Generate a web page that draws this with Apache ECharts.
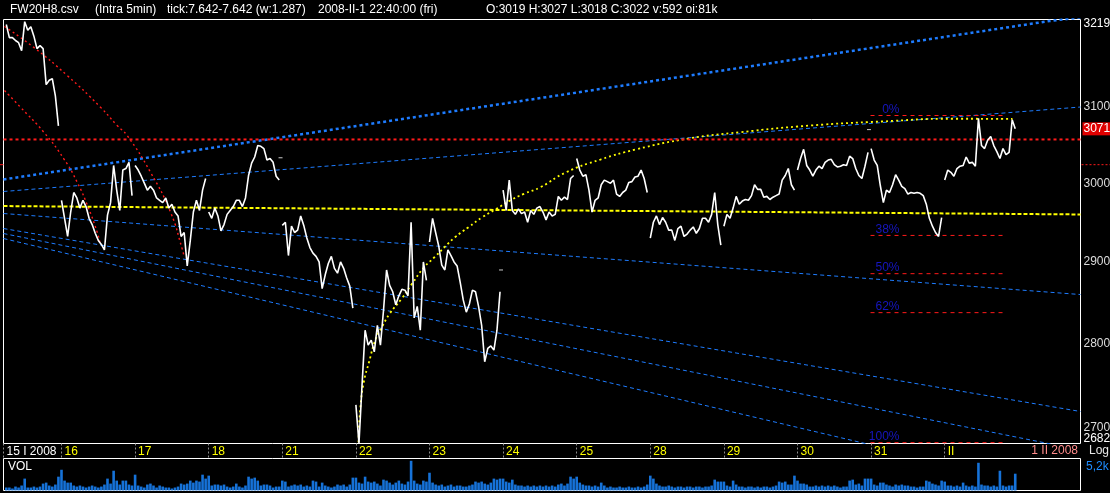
<!DOCTYPE html>
<html>
<head>
<meta charset="utf-8">
<title>FW20H8</title>
<script src="https://cdn.jsdelivr.net/npm/echarts@6.0.0/dist/echarts.min.js"></script>
<style>
html,body{margin:0;padding:0;background:#000;overflow:hidden;}
#chart{width:1110px;height:493px;}
</style>
</head>
<body>
<div id="chart"></div>
<script>
// ================= DATA =================
// trading days shown on the time axis (day index 0 = 15 Jan 2008)
const dayLabels = ['15 I 2008','16','17','18','21','22','23','24','25','28','29','30','31','II'];
const samplesPerDay = 24;                 // intraday samples per session
const firstSample = [6,0,0,0,0,0,0,0,0,0,0,0,0,0]; // 15 Jan only partly visible

// intraday prices, one array per session
const price_15 = [3212,3194,3194,3190,3187,3176,3216,3204,3209,3196,3179,3183,3179,3130,3136,3138,3115,3075];
const price_16 = [2978,2955,2932,2963,2988,2981,2968,2978,2970,2955,2947,2936,2927,2922,2915,2959,2975,3023,2991,2965,3017,3019,3027,2984];
const price_17 = [3023,3017,3009,3000,2991,2996,2991,2981,2978,2975,2981,2968,2973,2963,2958,2932,2937,2895,2927,2963,2978,2965,2991,3006];
const price_18 = [2963,2955,2968,2958,2939,2947,2960,2965,2970,2978,2978,2970,2981,3010,3026,3034,3049,3048,3045,3030,3032,3027,3009,3004];
const price_21 = [2946,2950,2908,2945,2937,2940,2958,2946,2930,2918,2911,2907,2900,2867,2884,2898,2907,2892,2886,2900,2892,2880,2870,2843];
const price_22 = [2727,2682,2750,2816,2798,2804,2790,2822,2798,2840,2890,2871,2863,2847,2858,2866,2865,2858,2950,2831,2845,2816,2900,2877];
const price_23 = [2925,2955,2937,2920,2896,2890,2915,2908,2900,2895,2875,2853,2838,2848,2865,2863,2845,2822,2778,2794,2797,2792,2816,2863];
const price_24 = [2991,2965,3004,2965,2960,2967,2961,2963,2950,2965,2960,2968,2970,2963,2953,2963,2958,2960,2983,2978,2982,2979,3006,3010];
const price_25 = [3032,3017,3009,3011,2991,2963,2978,2981,2998,3004,3002,3000,3004,2986,2983,2988,2991,3001,3002,3008,3009,3017,3006,2988];
const price_28 = [2930,2950,2958,2947,2956,2950,2940,2940,2927,2942,2945,2932,2935,2940,2944,2936,2942,2955,2955,2950,2960,2988,2947,2921];
const price_29 = [2945,2960,2955,2968,2983,2973,2977,2979,2978,2984,2998,2992,2992,2982,2983,2979,2982,2984,2986,3004,3010,3019,2998,2991];
const price_30 = [3017,3032,3044,3023,3017,3009,3017,3022,3019,3027,3030,3031,3024,3021,3022,3024,3023,3035,3032,3019,3010,3006,3022,3040];
const price_31 = [3045,3030,3023,2997,2975,2991,2988,2998,3011,3004,2996,2993,2986,2988,2987,2988,2987,2984,2973,2955,2945,2937,2932,2956];
const price_0201 = [3004,3017,3014,3009,3019,3022,3023,3034,3026,3027,3022,3085,3049,3045,3056,3061,3049,3041,3032,3045,3037,3040,3083,3071];

// intraday volume, same sampling
const vol_15 = [520,520,350,690,520,870,2080,520,520,690,520,690,1210,1380,870,690,1040,2420];
const vol_16 = [3630,1730,1380,1380,870,690,870,690,520,690,870,690,520,690,1040,2080,1210,3460,1730,1040,1730,1730,1040,870];
const vol_17 = [2770,870,690,520,1040,1210,870,520,870,690,520,520,350,520,690,1210,1040,1210,1730,1380,1730,1560,2770,2080];
const vol_18 = [2600,870,1040,1040,870,1040,690,520,690,1210,690,520,870,2420,2080,2250,1730,870,1040,1040,870,520,690,690];
const vol_21 = [1730,1560,690,870,1040,870,1040,690,870,690,1730,1560,690,1380,870,690,520,690,1040,870,1040,690,1040,2250];
const vol_22 = [2250,1380,1210,2420,1560,1380,1560,1210,870,1900,1730,1380,1040,1380,1730,1210,1040,1560,5200,1730,1210,1040,1730,1560];
const vol_23 = [3110,1380,1040,870,1040,690,870,1040,690,870,870,690,690,870,1040,1560,1380,1560,1210,1040,1380,2080,1900,2080];
const vol_24 = [2080,1560,1380,1900,1040,870,870,690,870,690,870,690,870,690,870,690,870,690,1040,1210,870,1210,2420,2080];
const vol_25 = [2420,1380,1040,870,870,690,870,690,1380,870,520,690,520,520,690,520,520,690,520,520,690,520,690,1040];
const vol_28 = [2600,2080,1210,870,690,690,870,690,520,690,690,520,690,690,520,690,690,520,690,690,870,1900,1560,1560];
const vol_29 = [1560,870,690,1730,1040,690,690,520,690,690,520,690,520,690,690,520,690,870,1560,1380,1560,1040,1040,2600];
const vol_30 = [1730,1210,1210,1040,690,690,870,690,870,690,870,690,870,690,520,690,690,1730,1900,1040,1210,870,2080,2080];
const vol_31 = [2080,1040,870,1380,1380,1040,870,690,1040,870,1040,870,870,690,690,520,690,690,1730,1560,1210,1040,870,1730];
const vol_0201 = [1560,870,870,690,870,690,1380,870,690,870,690,4850,1040,870,870,690,870,690,3460,870,690,870,870,2940];

// price scale labels (right axis)
const priceTicks = [3219,3100,3000,2900,2800,2700,2682];
const lastClose = 3071;
const cursorPrice = 3024;
const volumeMaxLabel = '5,2k';

// drawing tools: [time (day units), price]
const thickFan = [[0.212,3004.8],[7.508,3112.0],[14.424,3216.9],[14.845,3221.8]];
const fanLine1 = [[0.212,2989.3],[14.845,3100.0]];
const fanLine2 = [[0.212,2961.1],[14.845,2859.6]];
const fanLine3 = [[0.212,2942.0],[14.845,2719.2]];
const fanLine4 = [[0.212,2935.7],[14.845,2674.5]];
const fanLine5 = [[0.212,2929.4],[14.845,2623.5]];
const yellowLevel = [[0.212,2970.6],[14.845,2959.9]];
const redLevel = [[0.212,3057],[14.845,3057]];
const yellowArc = [[5.035,2683.4],[5.060,2722.6],[5.107,2753.7],[5.178,2777.5],[5.270,2805.6],[5.364,2821.7],[5.457,2835.9],[5.620,2854.3],[5.762,2872.8],[5.927,2893.4],[6.068,2905.9],[6.204,2918.5],[6.346,2931.0],[6.530,2943.7],[6.720,2956.5],[6.910,2967.1],[7.095,2977.7],[7.283,2986.3],[7.508,2994.8],[7.848,3013.8],[8.323,3030.7],[8.799,3043.8],[9.519,3058.2],[10.226,3066.6],[11.177,3075.4],[12.137,3080.7],[13.092,3084.4],[13.921,3084.1]];
const redArc1 = [[0.2255,3209.3],[0.6196,3180.9],[1.0774,3142.3],[1.5299,3099.7],[1.757,3075.4],[1.8927,3062.2],[2.2092,3014.2],[2.481,2962.8],[2.640,2916.4],[2.662,2908.1]];
const redArc2 = [[0.2255,3122.1],[0.443,3099.7],[0.7595,3066.6],[1.0312,3031.7],[1.2133,3001.3],[1.3709,2967.1],[1.4851,2937.4],[1.5204,2924.7]];
const fibLevels = [3088.7,2933.3,2885.4,2837.4,2683];
const fibLabels = ['0%','38%','50%','62%','100%'];
const fibSpan = [11.992,13.799];
const fibLabelAt = 12.386;
const tickMarkers = [[3.976,3033],[6.972,2890],[11.971,3070]];

const headerTexts = ['FW20H8.csv','(Intra 5min)','tick:7.642-7.642 (w:1.287)','2008-II-1 22:40:00 (fri)','O:3019 H:3027 L:3018 C:3022 v:592 oi:81k'];
const currentDate = '1 II 2008';

// ================= CHART =================
const X_MIN = 0.212, X_MAX = 14.845;
const FONT = '"Liberation Sans", Arial, sans-serif';
const BLUE = '#1e7cff';

const priceDays = [price_15,price_16,price_17,price_18,price_21,price_22,price_23,price_24,price_25,price_28,price_29,price_30,price_31,price_0201];
const volumeDays = [vol_15,vol_16,vol_17,vol_18,vol_21,vol_22,vol_23,vol_24,vol_25,vol_28,vol_29,vol_30,vol_31,vol_0201];
const t = (k,i) => k + (firstSample[k] + i) / samplesPerDay;

const series = [];
function overlay(data, color, width, dash, extra) {
  series.push(Object.assign({
    type:'line', xAxisIndex:0, yAxisIndex:0, data, symbol:'none', silent:true, clip:true,
    lineStyle:{color, width, type:dash}, z:2
  }, extra || {}));
}
[fanLine1,fanLine2,fanLine3,fanLine4,fanLine5].forEach(l => overlay(l, BLUE, 1, [4,3]));
overlay(thickFan, BLUE, 2.5, [3,3]);
overlay(yellowArc, '#ffff00', 1.8, [2,3], {smooth:true});
overlay(redArc1, '#ff1a1a', 1.4, [2,3], {smooth:true});
overlay(redArc2, '#ff1a1a', 1.4, [2,3], {smooth:true});
overlay(yellowLevel, '#ffff00', 2, [4,2]);
fibLevels.forEach(v => overlay([[fibSpan[0],v],[fibSpan[1],v]], '#ff1a1a', 1, [4,4]));
overlay(redLevel, '#ff1a1a', 2, [3,3]);

// price line, one segment per session
priceDays.forEach((arr,k) => {
  series.push({
    type:'line', xAxisIndex:0, yAxisIndex:0, symbol:'none', silent:true, clip:true,
    data: arr.map((v,i) => [t(k,i), v]),
    lineStyle:{color:'#ffffff', width:1.6}, z:5
  });
});

// small tick markers
series.push({
  type:'scatter', xAxisIndex:0, yAxisIndex:0, data:tickMarkers, symbol:'rect', symbolSize:[4,1],
  itemStyle:{color:'#ffffff'}, silent:true, z:5
});

// fibonacci labels
series.push({
  type:'scatter', xAxisIndex:0, yAxisIndex:0, symbolSize:0, silent:true, z:6,
  data: fibLevels.map((v,i) => ({value:[fibLabelAt, v], name:fibLabels[i]})),
  label:{show:true, position:'left', distance:0, offset:[0,-6], formatter:'{b}', color:'#1c1cf0', fontSize:12, fontFamily:FONT}
});

// price scale labels on the right, drawn through the log axis
const scaleItems = priceTicks.map(v => [X_MAX, v]).concat([[X_MAX, lastClose]]);
series.push({
  type:'custom', xAxisIndex:0, yAxisIndex:0, clip:false, silent:true, z:7,
  data: scaleItems,
  renderItem: (params, api) => {
    const v = api.value(1);
    const p = api.coord([api.value(0), v]);
    const isLast = params.dataIndex === scaleItems.length - 1;
    let dy = 0, color = '#dcdcdc';
    if (v === priceTicks[0]) { dy = 4; color = '#ffffff'; }
    if (v === priceTicks[priceTicks.length-1]) { dy = -5; color = '#ffffff'; }
    const style = {text:String(v), fill:isLast ? '#ffffff' : color, font:'12px ' + FONT,
      align:'left', verticalAlign:'middle', textAlign:'left', textVerticalAlign:'middle'};
    if (isLast) { style.backgroundColor = '#e00000'; style.padding = [1,2,0,1]; }
    return {type:'text', x:p[0] + (isLast ? 2 : 3), y:p[1] + dy, style};
  }
});

// current price marker outside the plot
series.push({
  type:'custom', xAxisIndex:0, yAxisIndex:0, clip:false, silent:true, z:6,
  data:[[X_MAX, cursorPrice]],
  renderItem: (params, api) => {
    const r = api.coord([api.value(0), api.value(1)]);
    const l = api.coord([X_MIN, api.value(1)]);
    return {type:'group', children:[
      {type:'line', shape:{x1:r[0]+1, y1:r[1], x2:r[0]+32, y2:r[1]}, style:{stroke:'#ff1a1a', lineWidth:1, lineDash:[2,2]}},
      {type:'line', shape:{x1:l[0]-4, y1:r[1], x2:l[0], y2:r[1]}, style:{stroke:'#ff1a1a', lineWidth:1}}
    ]};
  }
});

// volume
const volData = [];
volumeDays.forEach((arr,k) => arr.forEach((v,i) => volData.push([t(k,i), v])));
series.push({
  type:'bar', xAxisIndex:1, yAxisIndex:1, data:volData, barWidth:2.6, silent:true,
  itemStyle:{color:'#1672d8'}, z:2
});

const dayTicks = dayLabels.map((_,i) => i === 0 ? X_MIN : i);

function txt(x, y, s, color, size, align) {
  return {type:'text', x, y, silent:true, z:100,
    style:{text:s, fill:color, font:size+'px '+FONT, textAlign:align||'left', textVerticalAlign:'middle', align:align||'left', verticalAlign:'middle'}};
}
const headerX = [10,95,167,318,486];

const option = {
  backgroundColor:'#000000',
  animation:false,
  grid:[
    {left:3.5, top:19.5, width:1077, height:424, show:true, borderColor:'#ffffff', borderWidth:1, containLabel:false},
    {left:3.5, top:458.5, width:1077, height:32, show:true, borderColor:'#ffffff', borderWidth:1, containLabel:false}
  ],
  xAxis:[
    {gridIndex:0, type:'value', min:X_MIN, max:X_MAX, position:'bottom',
      axisLine:{show:false}, splitLine:{show:false},
      axisTick:{show:true, customValues:dayTicks, length:14, lineStyle:{color:'#8c8c8c', width:1, type:[2,2]}},
      axisLabel:{show:true, customValues:dayTicks, align:'left', margin:2, padding:[0,0,0,3],
        fontSize:12, fontFamily:FONT,
        formatter: v => dayLabels[Math.round(v)],
        color: v => Math.round(v) === 0 ? '#ffffff' : '#ffff00'}
    },
    {gridIndex:1, type:'value', min:X_MIN, max:X_MAX, show:false}
  ],
  yAxis:[
    {gridIndex:0, type:'log', min:2682, max:3219, show:false},
    {gridIndex:1, type:'value', min:0, max:5600, show:false}
  ],
  graphic:[
    ...headerTexts.map((s,i) => txt(headerX[i], 10, s, '#ffffff', 12)),
    txt(1078, 451, currentDate, '#ff8c8c', 12, 'right'),
    txt(1089, 451, 'Log', '#e6e6e6', 12),
    txt(1086, 467, volumeMaxLabel, '#1e8cff', 12),
    txt(8, 467, 'VOL', '#ffffff', 12)
  ],
  series
};

const chart = echarts.init(document.getElementById('chart'), null, {renderer:'canvas'});
chart.setOption(option);
</script>
</body>
</html>
